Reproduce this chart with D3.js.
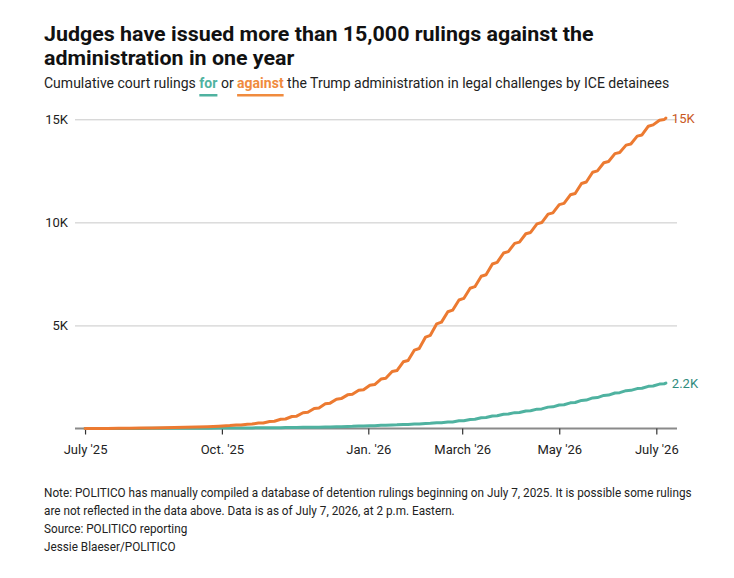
<!DOCTYPE html>
<html><head><meta charset="utf-8">
<script src="https://cdn.jsdelivr.net/npm/d3@7"></script>
<style>
html,body{margin:0;padding:0;background:#fff;}
svg{display:block;font-family:Roboto,"Noto Sans",sans-serif;}
</style></head>
<body>
<script>
// ---- data ----
const dates = [
"2025-07-07","2025-07-14","2025-07-21","2025-07-28","2025-08-04","2025-08-11","2025-08-18","2025-08-25","2025-09-01","2025-09-08","2025-09-15","2025-09-22","2025-09-29",
"2025-10-06","2025-10-10","2025-10-13","2025-10-17","2025-10-20","2025-10-24","2025-10-27","2025-10-31",
"2025-11-03","2025-11-07","2025-11-10","2025-11-14","2025-11-17","2025-11-21","2025-11-24","2025-11-28",
"2025-12-01","2025-12-05","2025-12-08","2025-12-12","2025-12-15","2025-12-19","2025-12-22","2025-12-26","2025-12-29",
"2026-01-02","2026-01-05","2026-01-09","2026-01-12","2026-01-16","2026-01-19","2026-01-23","2026-01-26","2026-01-30",
"2026-02-02","2026-02-06","2026-02-09","2026-02-13","2026-02-16","2026-02-20","2026-02-23","2026-02-27",
"2026-03-02","2026-03-06","2026-03-09","2026-03-13","2026-03-16","2026-03-20","2026-03-23","2026-03-27","2026-03-30",
"2026-04-03","2026-04-06","2026-04-10","2026-04-13","2026-04-17","2026-04-20","2026-04-24","2026-04-27",
"2026-05-01","2026-05-04","2026-05-08","2026-05-11","2026-05-15","2026-05-18","2026-05-22","2026-05-25","2026-05-29",
"2026-06-01","2026-06-05","2026-06-08","2026-06-12","2026-06-15","2026-06-19","2026-06-22","2026-06-26","2026-06-29",
"2026-07-03","2026-07-06","2026-07-07"
];
const againstRulings = [
0,3,6,10,15,20,27,35,45,57,72,90,112,
140,170,175,210,215,263,270,340,
350,446,460,582,600,765,790,973,
1000,1200,1230,1421,1450,1633,1660,1851,1880,
2098,2130,2400,2440,2762,2810,3236,3300,3805,
3880,4437,4520,5077,5160,5665,5740,6236,
6310,6806,6880,7385,7460,7982,8060,8512,8580,
8980,9040,9449,9510,9928,9990,10399,10460,
10860,10920,11338,11400,11887,11960,12430,12500,12892,
12950,13333,13390,13747,13800,14183,14240,14666,14730,
14956,14990,15060
];
const forRulings = [
0,1,2,3,4,5,7,9,11,13,15,18,21,
24,26,27,29,30,33,34,37,
38,42,43,48,49,55,56,65,
66,76,78,88,90,102,104,118,120,
136,138,154,156,174,176,195,198,219,
222,246,250,278,282,315,320,372,
380,441,450,520,530,608,620,690,700,
770,780,850,860,938,950,1037,1050,
1137,1150,1246,1260,1364,1380,1484,1500,1604,
1620,1724,1740,1836,1850,1937,1950,2046,2060,
2156,2170,2200
];
const yTicks = [5000, 10000, 15000];
const xTickDates = ["2025-07-07","2025-10-01","2026-01-01","2026-03-01","2026-05-01","2026-07-01"];
const xTickLabels = ["July '25","Oct. '25","Jan. '26","March '26","May '26","July '26"];
const endLabels = {against: "15K", for: "2.2K"};

// ---- chart ----
const W = 734, H = 578;
const parse = d3.utcParse("%Y-%m-%d");
const svg = d3.select("body").append("svg").attr("width", W).attr("height", H);

const ORANGE = "#ec7a31", ORANGE_DARK = "#c9581e";
const TEAL = "#4fb2a0", TEAL_DARK = "#2f8b7d";

// Title
const title = svg.append("g").attr("fill", "#111").attr("font-weight", 700).attr("font-size", 20.5);
const t1 = title.append("text").attr("y", 41).text("Judges have issued more than 15,000 rulings against the");
const t2 = title.append("text").attr("y", 65).text("administration in one year");
const s1 = t1.node().getComputedTextLength();
const tsx = 550 / s1;
title.attr("transform", `translate(44,0) scale(${tsx},1)`);

// Subtitle
const sub = svg.append("g");
const st = sub.append("text").attr("y", 88).attr("font-size", 14.5).attr("fill", "#222");
st.append("tspan").text("Cumulative court rulings ");
const tFor = st.append("tspan").attr("fill", TEAL).attr("font-weight", 700).text("for");
st.append("tspan").text(" or ");
const tAg = st.append("tspan").attr("fill", "#f08b3e").attr("font-weight", 700).text("against");
st.append("tspan").text(" the Trump administration in legal challenges by ICE detainees");
const stw = st.node().getComputedTextLength();
const ssx = 626 / stw;
sub.attr("transform", `translate(44,0) scale(${ssx},1)`);
// underlines
function underline(tspan, color) {
  const n = st.node();
  const full = n.textContent;
  const txt = tspan.text();
  const idx = full.indexOf(txt);
  const start = n.getStartPositionOfChar(idx).x;
  const end = n.getEndPositionOfChar(idx + txt.length - 1).x;
  sub.append("rect").attr("x", start).attr("y", 94).attr("width", end - start).attr("height", 2.5).attr("fill", color);
}
underline(tFor, TEAL);
underline(tAg, "#f08b3e");

// Scales
const x = d3.scaleUtc().domain([parse("2025-07-01"), parse("2026-07-14")]).range([75.5, 677]);
const y = d3.scaleLinear().domain([0, 15000]).range([428.5, 119.3]);

// Y grid + labels
const yAxis = svg.append("g").attr("transform", "translate(75,0)")
  .call(d3.axisLeft(y).tickValues(yTicks).tickSize(-602).tickPadding(7).tickFormat(d => (d / 1000) + "K"));
yAxis.select(".domain").remove();
yAxis.selectAll(".tick line").attr("stroke", "#c8c8c8").attr("stroke-width", 1);
yAxis.selectAll(".tick text").attr("font-family", "Roboto, sans-serif").attr("font-size", 13).attr("fill", "#222");

// Lines
const pts = dates.map((d, i) => ({date: parse(d), a: againstRulings[i], f: forRulings[i]}));
const lineA = d3.line().x(d => x(d.date)).y(d => y(d.a));
const lineF = d3.line().x(d => x(d.date)).y(d => y(d.f));

// X axis
const xAxis = svg.append("g").attr("transform", "translate(0,428.5)")
  .call(d3.axisBottom(x).tickValues(xTickDates.map(parse)).tickSize(6)
    .tickFormat((d, i) => xTickLabels[i]));
xAxis.select(".domain").attr("stroke", "#8a8a8a").attr("stroke-width", 2).attr("d", "M75,0H677");
xAxis.selectAll(".tick line").attr("stroke", "#333").attr("stroke-width", 1.2);
xAxis.selectAll(".tick text").attr("font-family", "Roboto, sans-serif").attr("font-size", 13)
  .attr("fill", "#222").attr("dy", null).attr("y", 25);

svg.append("path").datum(pts).attr("d", lineF).attr("fill", "none").attr("stroke", TEAL)
  .attr("stroke-width", 3).attr("stroke-linejoin", "round").attr("stroke-linecap", "round");
svg.append("path").datum(pts).attr("d", lineA).attr("fill", "none").attr("stroke", ORANGE)
  .attr("stroke-width", 3).attr("stroke-linejoin", "round").attr("stroke-linecap", "round");

// End labels
const last = pts[pts.length - 1];
svg.append("text").attr("x", x(last.date) + 6).attr("y", y(last.a)).attr("dy", "0.35em")
  .attr("font-size", 13).attr("fill", ORANGE_DARK).text(endLabels.against);
svg.append("text").attr("x", x(last.date) + 6).attr("y", y(last.f)).attr("dy", "0.35em")
  .attr("font-size", 13).attr("fill", TEAL_DARK).text(endLabels.for);

// Notes
const notes = [
  {t: "Note: POLITICO has manually compiled a database of detention rulings beginning on July 7, 2025. It is possible some rulings", y: 497, w: 648},
  {t: "are not reflected in the data above. Data is as of July 7, 2026, at 2 p.m. Eastern.", y: 515, w: 402},
  {t: "Source: POLITICO reporting", y: 533, w: 146},
  {t: "Jessie Blaeser/POLITICO", y: 551, w: 134}
];
const noteG = svg.append("g").attr("font-size", 12.5).attr("fill", "#222");
const nodes = notes.map(n => noteG.append("text").attr("y", n.y).text(n.t));
const nsx = notes[0].w / nodes[0].node().getComputedTextLength();
noteG.attr("transform", `translate(44,0) scale(${nsx},1)`);
</script>
</body></html>
